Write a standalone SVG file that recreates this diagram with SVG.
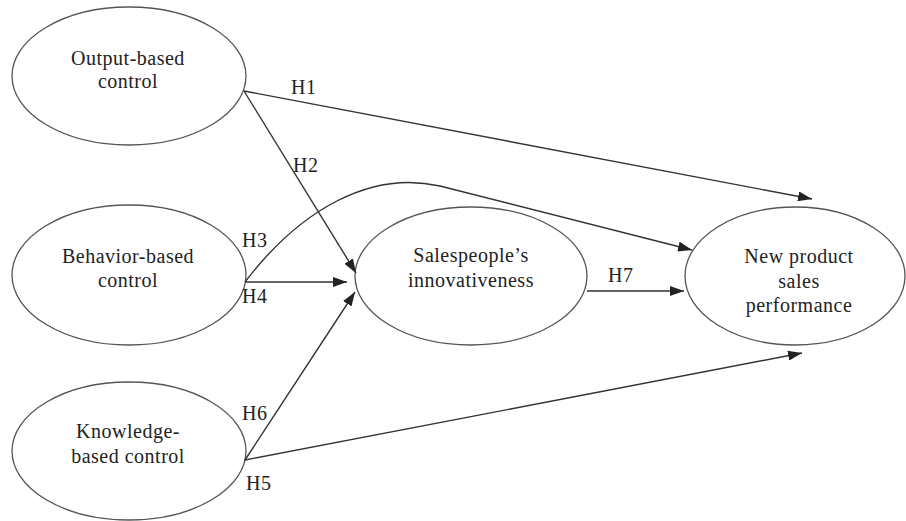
<svg xmlns="http://www.w3.org/2000/svg" width="906" height="521" viewBox="0 0 906 521">
<style>
.node ellipse{fill:#fff;stroke:#555;stroke-width:1.3}
text{font-family:"Liberation Serif","Times New Roman",Tinos,"DejaVu Serif",serif;font-size:20px;fill:#222;letter-spacing:0.5px}
.node text{text-anchor:middle}
.edge{fill:none;stroke:#333;stroke-width:1.4;marker-end:url(#ah)}
</style>
<defs>
<marker id="ah" markerUnits="userSpaceOnUse" markerWidth="14" markerHeight="10" viewBox="0 0 14 10" refX="14" refY="5" orient="auto">
<path d="M0,0 L14,5 L0,10 Z" fill="#222"/>
</marker>
</defs>
<rect width="906" height="521" fill="#fff"/>
<g id="n-output" class="node">
<ellipse cx="129" cy="76" rx="117" ry="69"/>
<text x="128" y="65" font-family="Liberation Serif">Output-based</text>
<text x="128" y="88" font-family="Liberation Serif">control</text>
</g>
<g id="n-behavior" class="node">
<ellipse cx="129" cy="275" rx="117" ry="70"/>
<text x="128" y="263">Behavior-based</text>
<text x="128" y="287">control</text>
</g>
<g id="n-knowledge" class="node">
<ellipse cx="129" cy="451" rx="117" ry="69"/>
<text x="128" y="438">Knowledge-</text>
<text x="128" y="463">based control</text>
</g>
<g id="n-innov" class="node">
<ellipse cx="471" cy="276" rx="116" ry="69"/>
<text x="471" y="262">Salespeople’s</text>
<text x="471" y="287">innovativeness</text>
</g>
<g id="n-perf" class="node">
<ellipse cx="795" cy="276" rx="110" ry="69"/>
<text x="799" y="263">New product</text>
<text x="799" y="288">sales</text>
<text x="799" y="312">performance</text>
</g>
<g id="connectors">
<path class="edge" d="M244,91 L812,199"/>
<path class="edge" d="M244,91 L356,273"/>
<path class="edge" d="M245,282 C300,210 370,170 440,186 L692,250"/>
<path class="edge" d="M245,282 L347,282"/>
<path class="edge" d="M245,460 L355,292"/>
<path class="edge" d="M245,460 L802,353"/>
<path class="edge" d="M587,291 L684,291"/>
<text x="291" y="94">H1</text>
<text x="293" y="172">H2</text>
<text x="242" y="247">H3</text>
<text x="242" y="303">H4</text>
<text x="246" y="490">H5</text>
<text x="242" y="420">H6</text>
<text x="608" y="282">H7</text>
</g>
</svg>
